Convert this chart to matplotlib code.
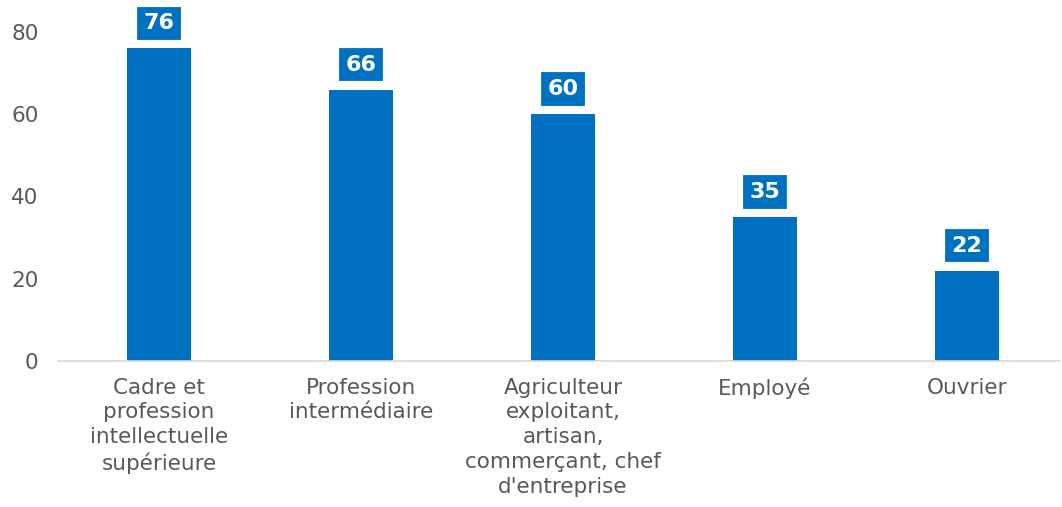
import matplotlib
matplotlib.use("Agg")
import matplotlib.pyplot as plt
import numpy as np

plt.rcParams['font.family'] = ['DejaVu Sans']

categories = ["Cadre et\nprofession\nintellectuelle\nsupérieure",
              "Profession\nintermédiaire",
              "Agriculteur\nexploitant,\nartisan,\ncommerçant, chef\nd'entreprise",
              "Employé",
              "Ouvrier"]
values = [76, 66, 60, 35, 22]

blue = "#0070C0"
grey = "#595959"

fig = plt.figure(figsize=(10.62, 5.07), dpi=100)
ax = fig.add_axes([58/1062, 1 - 361/507, 1002/1062, (361-32)/507])

x = np.arange(len(values))
ax.bar(x, values, width=0.32, color=blue)

for xi, v in zip(x, values):
    ax.annotate(str(v), (xi, v), xytext=(0, 18), textcoords="offset points",
                ha="center", va="center", color="white", fontsize=16,
                fontweight="bold",
                bbox=dict(boxstyle="square,pad=0.4", fc=blue, ec="white", lw=3))

ax.set_xlim(-0.5, 4.46)
ax.set_ylim(0, 80)
ax.set_yticks([0, 20, 40, 60, 80])
ax.set_xticks(x)
ax.set_xticklabels(categories, fontsize=15.5, color=grey, linespacing=1.3)
ax.tick_params(axis="y", labelsize=15.5, labelcolor=grey, length=0, pad=14)
ax.tick_params(axis="x", length=0, pad=12)
for s in ["top", "right", "left"]:
    ax.spines[s].set_visible(False)
ax.spines["bottom"].set_color("#d9d9d9")
ax.spines["bottom"].set_linewidth(1.2)

fig.savefig("out.png", dpi=100)
